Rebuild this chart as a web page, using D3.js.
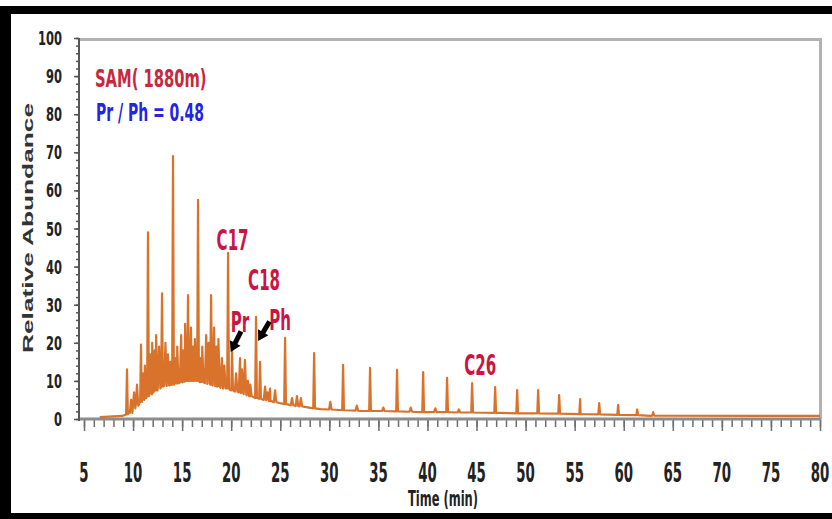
<!DOCTYPE html>
<html>
<head>
<meta charset="utf-8">
<script src="https://cdn.jsdelivr.net/npm/d3@7"></script>
<style>
  html, body { margin: 0; padding: 0; background: #fff; }
  svg { display: block; }
  text { font-family: "Liberation Sans Narrow", "DejaVu Sans Condensed", "Arial Narrow", sans-serif; font-weight: bold; }
</style>
</head>
<body>
<div id="chart"></div>
<script>
// tick labels
const xTicks = [5, 10, 15, 20, 25, 30, 35, 40, 45, 50, 55, 60, 65, 70, 75, 80];
const yTicks = [0, 10, 20, 30, 40, 50, 60, 70, 80, 90, 100];

// hump of the trace: [time (min), abundance]
const baseline = [
  [6.6, 0.5], [8.9, 0.8], [9.5, 1.5], [10.2, 3.7], [11.2, 5.8], [12.2, 7.6],
  [13.8, 8.9], [15.3, 10], [16.8, 9.7], [18.4, 8.7], [19.9, 7.6], [21.9, 6],
  [24.0, 4.7], [26.0, 3.7], [29.1, 2.6], [33.1, 2.1], [39.3, 1.8], [47.4, 1.6],
  [55.6, 1.3], [62.7, 0.8], [80, 0.8]
];

// resolved peaks: [time, foot, top]
const majorPeaks = [
  [9.38, 1.2, 13], [10.81, 4.5, 19.5], [11.52, 6, 49], [12.95, 8.5, 33],
  [14.07, 9, 69], [15.6, 10, 32.5], [16.62, 10, 57.5], [17.95, 9, 32.5],
  [19.68, 8, 43.6], [20.09, 7.5, 18], [22.53, 5.5, 26.8], [22.94, 5.3, 15],
  [25.49, 3.9, 21.3], [28.45, 2.8, 17.3], [31.4, 2.3, 14.2], [34.15, 2.1, 13.4],
  [36.9, 2.0, 12.9], [39.56, 1.8, 12.3], [42.0, 1.8, 10.8], [44.55, 1.7, 9.4],
  [46.9, 1.6, 8.4], [49.14, 1.5, 7.6], [51.28, 1.5, 7.6], [53.42, 1.4, 6.3],
  [55.56, 1.3, 5.2], [57.5, 1.2, 4.2], [59.43, 1.1, 3.7], [61.37, 1.0, 2.5],
  [63.0, 0.9, 1.8]
];

// small unresolved peaks in the hump: [time, foot, top]
const minorPeaks = [
  [9.8, 1.6, 5], [10.1, 2.8, 7], [10.4, 3.5, 9], [11.0, 5, 12], [11.2, 5.5, 14],
  [11.8, 6.5, 17], [11.95, 7, 20], [12.2, 7.5, 18], [12.35, 7.5, 22], [12.65, 8, 19],
  [13.3, 8.7, 20], [13.55, 8.8, 17], [13.8, 9, 15], [14.35, 9.3, 16], [14.5, 9.4, 19],
  [14.9, 9.6, 22], [15.1, 9.8, 18], [15.3, 10, 25], [15.9, 10, 24], [16.1, 10, 19],
  [16.3, 10, 21], [16.9, 9.8, 16], [17.05, 9.7, 19], [17.45, 9.4, 22], [17.7, 9.2, 20],
  [18.25, 8.8, 24], [18.5, 8.6, 19], [18.7, 8.5, 21], [19.05, 8.2, 16], [19.3, 8, 14],
  [20.5, 7.2, 12], [20.9, 7, 16], [21.1, 6.8, 13], [21.4, 6.5, 15.5], [21.7, 6.2, 10],
  [21.95, 6, 9], [23.45, 5, 8.5], [23.7, 4.9, 7], [23.96, 4.7, 8], [24.47, 4.4, 7.5],
  [26.2, 3.6, 5.5], [26.7, 3.4, 6], [27.1, 3.3, 5.5], [30.1, 2.5, 4.5], [32.8, 2.2, 3.5],
  [35.5, 2.1, 3], [38.3, 1.9, 3], [40.8, 1.8, 2.8], [43.2, 1.7, 2.5]
];

// peak labels: [text, time, abundance]
const peakLabels = [
  ["C17", 20.14, 44.4], ["C18", 23.35, 33.9], ["Pr", 20.9, 22.8],
  ["Ph", 24.98, 23.4], ["C26", 45.37, 11.5]
];
// arrows: [t0, v0, t1, v1]
const arrows = [
  [21.0, 23.0, 19.95, 17.6],
  [23.9, 25.6, 22.75, 20.5]
];

const width = 832, height = 519;
const svg = d3.select("#chart").append("svg")
  .attr("width", width).attr("height", height);

// frame
svg.append("rect").attr("width", width).attr("height", height).attr("fill", "#fff");
svg.append("rect").attr("x", 0).attr("y", 6).attr("width", width).attr("height", 8).attr("fill", "#000");
svg.append("rect").attr("x", 0).attr("y", 6).attr("width", 11).attr("height", height).attr("fill", "#000");
svg.append("rect").attr("x", 0).attr("y", 513).attr("width", width).attr("height", 6).attr("fill", "#000");

const x = d3.scaleLinear().domain([5, 80]).range([84, 820]);
const y = d3.scaleLinear().domain([0, 100]).range([419, 38]);

// plot border top/right
svg.append("path")
  .attr("d", `M79,39.5H820.5V419`)
  .attr("fill", "none").attr("stroke", "#b2b2b2").attr("stroke-width", 3);

// x axis
const xMinor = svg.append("g").attr("transform", "translate(0,419)")
  .call(d3.axisBottom(x).tickValues(d3.range(5, 81)).tickSize(8).tickFormat(""));
const xMajor = svg.append("g").attr("transform", "translate(0,419)")
  .call(d3.axisBottom(x).tickValues(xTicks).tickSize(12).tickFormat(""));
[xMinor, xMajor].forEach(g => {
  g.select(".domain").remove();
  g.selectAll("line").attr("stroke", "#6e6e6e").attr("stroke-width", 1.5);
});
svg.append("line").attr("x1", 79).attr("x2", 821).attr("y1", 419).attr("y2", 419)
  .attr("stroke", "#8c8c8c").attr("stroke-width", 3);

svg.append("g").selectAll("text").data(xTicks).join("text")
  .attr("transform", d => `translate(${x(d)},482) scale(0.78,1.4)`)
  .attr("text-anchor", "middle")
  .style("font-size", "19px").attr("fill", "#222")
  .text(d => d);

// y axis
const yMinor = svg.append("g").attr("transform", "translate(79,0)")
  .call(d3.axisLeft(y).tickValues(d3.range(0, 101, 2)).tickSize(3).tickFormat(""));
const yMajor = svg.append("g").attr("transform", "translate(79,0)")
  .call(d3.axisLeft(y).tickValues(yTicks).tickSize(5).tickFormat(""));
[yMinor, yMajor].forEach(g => {
  g.select(".domain").remove();
  g.selectAll("line").attr("stroke", "#555").attr("stroke-width", 1.5);
});
svg.append("line").attr("x1", 79).attr("x2", 79).attr("y1", 38).attr("y2", 421)
  .attr("stroke", "#555").attr("stroke-width", 2);

svg.append("g").selectAll("text").data(yTicks).join("text")
  .attr("transform", d => `translate(62,${y(d) + 7}) scale(0.75,1.15)`)
  .attr("text-anchor", "end")
  .style("font-size", "17px").attr("fill", "#222")
  .text(d => d);

// axis titles
svg.append("text")
  .attr("transform", "translate(33,228) rotate(-90)")
  .attr("text-anchor", "middle")
  .attr("textLength", 250).attr("lengthAdjust", "spacingAndGlyphs")
  .style("font-family", "'Liberation Sans', Arial, sans-serif")
  .style("font-size", "15px").attr("fill", "#333")
  .text("Relative Abundance");

svg.append("text")
  .attr("transform", "translate(443,506) scale(0.75,1.3)")
  .attr("text-anchor", "middle")
  .style("font-size", "17px").attr("fill", "#222")
  .text("Time (min)");

// trace
const pts = baseline.map(d => [d[0], d[1]]);
const addPeaks = (arr, w) => arr.forEach(([t, f, top]) => {
  pts.push([t - w, f], [t, top], [t + w, f]);
});
addPeaks(majorPeaks, 0.09);
addPeaks(minorPeaks, 0.13);
pts.sort((a, b) => a[0] - b[0]);

svg.append("path")
  .datum(pts)
  .attr("fill", "none")
  .attr("stroke", "#d9722a")
  .attr("stroke-width", 2.2)
  .attr("stroke-linejoin", "round")
  .attr("d", d3.line().x(d => x(d[0])).y(d => y(d[1])));

// annotations
svg.append("text").attr("transform", "translate(95,87) scale(0.78,1.15)")
  .style("font-size", "21px").attr("fill", "#c8283c")
  .text("SAM( 1880m)");
svg.append("text").attr("transform", "translate(96,121) scale(0.74,1.15)")
  .style("font-size", "21px").attr("fill", "#2424e6")
  .text("Pr / Ph = 0.48");

svg.append("g").selectAll("text").data(peakLabels).join("text")
  .attr("transform", d => `translate(${x(d[1])},${y(d[2])}) scale(0.76,1.25)`)
  .attr("text-anchor", "middle")
  .style("font-size", "22px").attr("fill", "#cc1443")
  .text(d => d[0]);

arrows.forEach(([t0, v0, t1, v1]) => {
  const x0 = x(t0), y0 = y(v0), x1 = x(t1), y1 = y(v1);
  const a = Math.atan2(y1 - y0, x1 - x0);
  svg.append("line").attr("x1", x0).attr("y1", y0)
    .attr("x2", x1 - 5 * Math.cos(a)).attr("y2", y1 - 5 * Math.sin(a))
    .attr("stroke", "#000").attr("stroke-width", 5);
  const hx = x1 - 10 * Math.cos(a), hy = y1 - 10 * Math.sin(a);
  const p = [
    [x1, y1],
    [hx + 6 * Math.sin(a), hy - 6 * Math.cos(a)],
    [hx - 6 * Math.sin(a), hy + 6 * Math.cos(a)]
  ];
  svg.append("path").attr("d", "M" + p.join("L") + "Z").attr("fill", "#000");
});
</script>
</body>
</html>
